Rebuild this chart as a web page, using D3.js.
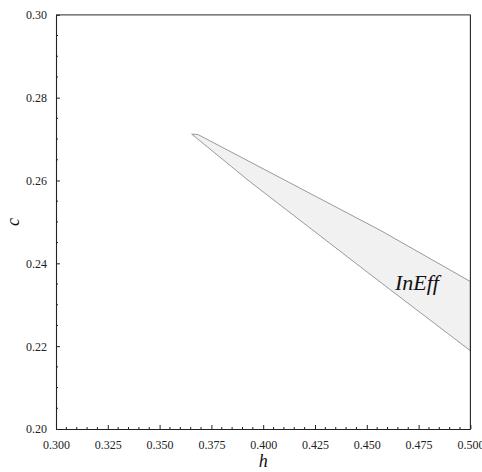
<!DOCTYPE html>
<html>
<head>
<meta charset="utf-8">
<script src="https://cdn.jsdelivr.net/npm/d3@7"></script>
<style>
  html, body { margin: 0; padding: 0; background: #fff; }
  svg { display: block; }
</style>
</head>
<body>
<svg id="chart" width="482" height="472"></svg>
<script>
// Region boundary (h, c), upper edge from the tip to h = 0.5
const upperH = [0.3655, 0.3685, 0.3936, 0.4564, 0.5000];
const upperC = [0.2712, 0.2711, 0.2645, 0.2480, 0.2356];
// Lower edge from h = 0.5 back to the tip
const lowerH = [0.5000, 0.4564, 0.3936, 0.3655];
const lowerC = [0.2189, 0.2355, 0.2597, 0.2712];

const xTicks = [0.300, 0.325, 0.350, 0.375, 0.400, 0.425, 0.450, 0.475, 0.500];
const yTicks = [0.20, 0.22, 0.24, 0.26, 0.28, 0.30];
const regionLabel = "InEff";
const regionLabelAt = [0.4742, 0.2336];

const margin = { left: 56, top: 14.8, right: 11.6, bottom: 43 };
const W = 482, H = 472;

const x = d3.scaleLinear().domain([0.3, 0.5]).range([margin.left, W - margin.right]);
const y = d3.scaleLinear().domain([0.2, 0.3]).range([H - margin.bottom, margin.top]);

const svg = d3.select("#chart");
const serif = '"Liberation Serif", serif';

// Shaded region
const pts = upperH.map((h, i) => [h, upperC[i]])
  .concat(lowerH.map((h, i) => [h, lowerC[i]]));
svg.append("path")
  .attr("d", d3.line().x(d => x(d[0])).y(d => y(d[1]))(pts) + "Z")
  .attr("fill", "#f1f1f1")
  .attr("stroke", "#8f8f8f")
  .attr("stroke-width", 0.9)
  .attr("stroke-linejoin", "round");

// Frame
const x0 = x(0.3), x1 = x(0.5), y0 = y(0.2), y1 = y(0.3);
svg.append("line").attr("x1", x0).attr("x2", x1).attr("y1", y1).attr("y2", y1)
  .attr("stroke", "#555").attr("stroke-width", 1.2);
svg.append("line").attr("x1", x1).attr("x2", x1).attr("y1", y1).attr("y2", y0)
  .attr("stroke", "#222").attr("stroke-width", 1.1);

// Bottom axis with inward ticks
const xAxis = d3.axisBottom(x).tickValues(xTicks).tickFormat(d3.format(".3f"))
  .tickSizeInner(-4).tickSizeOuter(0).tickPadding(11);
const gx = svg.append("g").attr("transform", `translate(0,${y0})`).call(xAxis);
const xMinor = d3.range(0.300, 0.5001, 0.005).filter(v => !xTicks.some(t => Math.abs(t - v) < 1e-6));
gx.selectAll("line.minor").data(xMinor).enter().append("line")
  .attr("class", "minor")
  .attr("x1", d => x(d)).attr("x2", d => x(d)).attr("y1", 0).attr("y2", -2)
  .attr("stroke", "#222");

// Left axis with inward ticks
const yAxis = d3.axisLeft(y).tickValues(yTicks).tickFormat(d3.format(".2f"))
  .tickSizeInner(-4).tickSizeOuter(0).tickPadding(9);
const gy = svg.append("g").attr("transform", `translate(${x0},0)`).call(yAxis);
const yMinor = d3.range(0.200, 0.3001, 0.005).filter(v => !yTicks.some(t => Math.abs(t - v) < 1e-6));
gy.selectAll("line.minor").data(yMinor).enter().append("line")
  .attr("class", "minor")
  .attr("y1", d => y(d)).attr("y2", d => y(d)).attr("x1", 0).attr("x2", 2)
  .attr("stroke", "#222");

[gx, gy].forEach(g => {
  g.attr("font-family", null).attr("font-size", null);
  g.select(".domain").attr("stroke", "#222").attr("stroke-width", 1.1);
  g.selectAll(".tick line").attr("stroke", "#222");
  g.selectAll(".tick text")
    .style("font-family", serif).style("font-size", "12px").attr("fill", "#222");
});

// Axis titles
svg.append("text")
  .attr("x", x(0.4)).attr("y", 467)
  .attr("text-anchor", "middle")
  .style("font-family", serif).style("font-style", "italic").style("font-size", "18px")
  .attr("fill", "#111").text("h");
svg.append("text")
  .attr("transform", `translate(19,${y(0.25)}) rotate(-90)`)
  .attr("text-anchor", "middle")
  .style("font-family", serif).style("font-style", "italic").style("font-size", "18px")
  .attr("fill", "#111").text("c");

// Region label
svg.append("text")
  .attr("x", x(regionLabelAt[0])).attr("y", y(regionLabelAt[1]))
  .attr("text-anchor", "middle")
  .style("font-family", serif).style("font-style", "italic").style("font-size", "22px")
  .attr("fill", "#111").text(regionLabel);
</script>
</body>
</html>
